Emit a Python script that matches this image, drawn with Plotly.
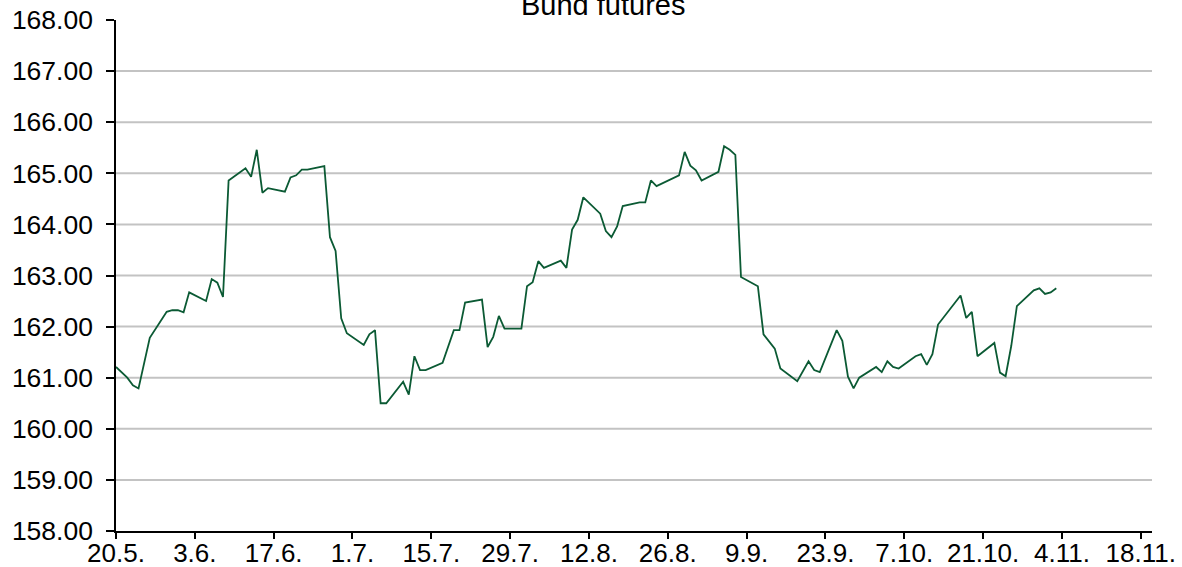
import plotly.graph_objects as go

# Bund futures daily closes (2017)
dates = [
    "2017-05-20", "2017-05-22", "2017-05-23", "2017-05-24", "2017-05-26",
    "2017-05-29", "2017-05-30", "2017-05-31", "2017-06-01", "2017-06-02",
    "2017-06-05", "2017-06-06", "2017-06-07", "2017-06-08", "2017-06-09",
    "2017-06-12", "2017-06-13", "2017-06-14", "2017-06-15", "2017-06-16",
    "2017-06-19", "2017-06-20", "2017-06-21", "2017-06-22", "2017-06-23",
    "2017-06-26", "2017-06-27", "2017-06-28", "2017-06-29", "2017-06-30",
    "2017-07-03", "2017-07-04", "2017-07-05", "2017-07-06", "2017-07-07",
    "2017-07-10", "2017-07-11", "2017-07-12", "2017-07-13", "2017-07-14",
    "2017-07-17", "2017-07-19", "2017-07-20", "2017-07-21",
    "2017-07-24", "2017-07-25", "2017-07-26", "2017-07-27", "2017-07-28",
    "2017-07-31", "2017-08-01", "2017-08-02", "2017-08-03", "2017-08-04",
    "2017-08-07", "2017-08-08", "2017-08-09", "2017-08-10", "2017-08-11",
    "2017-08-14", "2017-08-15", "2017-08-16", "2017-08-17", "2017-08-18",
    "2017-08-21", "2017-08-22", "2017-08-23", "2017-08-24",
    "2017-08-28", "2017-08-29", "2017-08-30", "2017-08-31", "2017-09-01",
    "2017-09-04", "2017-09-05", "2017-09-06", "2017-09-07", "2017-09-08",
    "2017-09-11", "2017-09-12", "2017-09-14", "2017-09-15",
    "2017-09-18", "2017-09-20", "2017-09-21", "2017-09-22",
    "2017-09-25", "2017-09-26", "2017-09-27", "2017-09-28", "2017-09-29",
    "2017-10-02", "2017-10-03", "2017-10-04", "2017-10-05", "2017-10-06",
    "2017-10-09", "2017-10-10", "2017-10-11", "2017-10-12", "2017-10-13",
    "2017-10-17", "2017-10-18", "2017-10-19", "2017-10-20",
    "2017-10-23", "2017-10-24", "2017-10-25", "2017-10-26", "2017-10-27",
    "2017-10-30", "2017-10-31", "2017-11-01", "2017-11-02", "2017-11-03",
]
prices = [
    161.21, 161.00, 160.85, 160.79, 161.78,
    162.29, 162.32, 162.32, 162.28, 162.67,
    162.50, 162.93, 162.86, 162.58, 164.86,
    165.10, 164.93, 165.46, 164.62, 164.71,
    164.64, 164.92, 164.96, 165.07, 165.07,
    165.14, 163.75, 163.48, 162.16, 161.87,
    161.64, 161.85, 161.93, 160.50, 160.50,
    160.92, 160.67, 161.42, 161.15, 161.15,
    161.29, 161.93, 161.93, 162.47,
    162.53, 161.60, 161.80, 162.21, 161.96,
    161.96, 162.79, 162.87, 163.28, 163.15,
    163.29, 163.15, 163.90, 164.09, 164.53,
    164.21, 163.87, 163.75, 163.96, 164.36,
    164.43, 164.43, 164.86, 164.75,
    164.96, 165.42, 165.15, 165.06, 164.86,
    165.03, 165.53, 165.46, 165.36, 162.97,
    162.79, 161.85, 161.57, 161.18,
    160.93, 161.32, 161.15, 161.11,
    161.93, 161.72, 161.02, 160.79, 161.00,
    161.21, 161.11, 161.32, 161.21, 161.18,
    161.42, 161.46, 161.25, 161.46, 162.04,
    162.61, 162.17, 162.29, 161.42,
    161.68, 161.10, 161.03, 161.62, 162.40,
    162.71, 162.75, 162.64, 162.67, 162.75,
]

tick_dates = [
    "2017-05-20", "2017-06-03", "2017-06-17", "2017-07-01", "2017-07-15",
    "2017-07-29", "2017-08-12", "2017-08-26", "2017-09-09", "2017-09-23",
    "2017-10-07", "2017-10-21", "2017-11-04", "2017-11-18",
]
tick_labels = [
    "20.5.", "3.6.", "17.6.", "1.7.", "15.7.", "29.7.", "12.8.", "26.8.",
    "9.9.", "23.9.", "7.10.", "21.10.", "4.11.", "18.11.",
]
y_ticks = [158, 159, 160, 161, 162, 163, 164, 165, 166, 167, 168]

FONT = "Liberation Sans, Arial, sans-serif"

fig = go.Figure()
fig.add_trace(go.Scatter(
    x=dates, y=prices, mode="lines",
    line=dict(color="#0b5a34", width=1.8),
    showlegend=False, hoverinfo="x+y",
))

# horizontal gridlines (none at the top and bottom edges, as in the reference)
shapes = [
    dict(type="line", xref="paper", yref="y", x0=0, x1=1, y0=v, y1=v,
         line=dict(color="#c3c3c3", width=2), layer="below")
    for v in y_ticks[1:-1]
]

fig.update_layout(
    width=1182, height=567,
    margin=dict(l=116, r=30, t=20, b=36, autoexpand=False),
    paper_bgcolor="white", plot_bgcolor="white",
    font=dict(family=FONT, size=26, color="black"),
    shapes=shapes,
    annotations=[dict(
        text="Bund futures", xref="paper", yref="paper",
        x=0.47, y=1.029, xanchor="center", yanchor="middle",
        showarrow=False, font=dict(family=FONT, size=29, color="black"),
    )],
)

fig.update_xaxes(
    type="date", range=["2017-05-20", "2017-11-20"],
    tickmode="array", tickvals=tick_dates, ticktext=tick_labels,
    ticks="outside", ticklen=6, tickwidth=1.5, tickcolor="black",
    showline=True, linecolor="black", linewidth=1.5,
    showgrid=False, zeroline=False, automargin=False,
    ticklabelstandoff=-8,
    tickfont=dict(family=FONT, size=26, color="black"),
)
fig.update_yaxes(
    range=[158, 168], tickmode="array", tickvals=y_ticks,
    tickformat=".2f",
    ticks="outside", ticklen=8, tickwidth=1.5, tickcolor="black",
    showline=True, linecolor="black", linewidth=1.5,
    showgrid=False, zeroline=False, automargin=False,
    ticklabelstandoff=8,
    tickfont=dict(family=FONT, size=26.5, color="black"),
)

fig.write_html(
    "out.html",
    config={"displayModeBar": False},
    post_script="document.body.style.margin='0';document.body.style.overflow='hidden';",
)
